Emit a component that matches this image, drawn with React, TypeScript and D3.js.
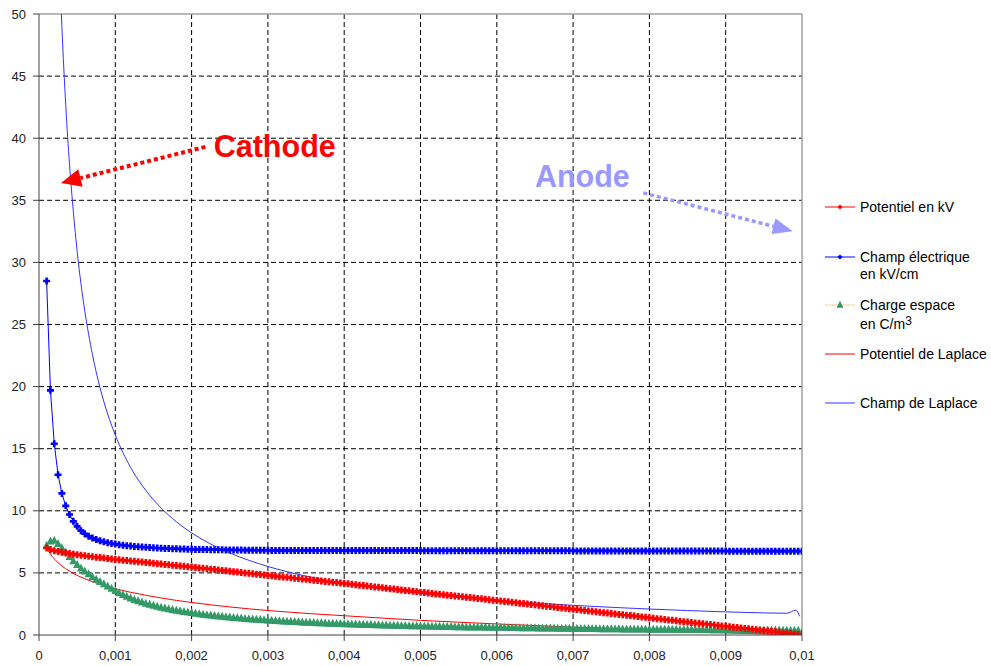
import React from 'react';
import * as d3 from 'd3';

// ---- data (x in metres, step 0.00005 from 0.0001 to 0.01) ----
const rStart = 0.0001;
const rStep = 0.00005;

const potentielKV = [
  7.0, 6.88, 6.79, 6.72, 6.66, 6.61, 6.56, 6.51, 6.47, 6.42, 6.38, 6.34, 6.3, 6.26, 6.23, 6.19, 6.15, 6.11, 6.08,
  6.05, 6.02, 5.99, 5.96, 5.93, 5.9, 5.87, 5.84, 5.81, 5.78, 5.74, 5.71, 5.68, 5.65, 5.62, 5.59, 5.56, 5.53, 5.5, 5.47,
  5.44, 5.4, 5.37, 5.34, 5.3, 5.27, 5.24, 5.2, 5.17, 5.14, 5.1, 5.07, 5.03, 5.0, 4.97, 4.93, 4.9, 4.87, 4.83, 4.8,
  4.77, 4.74, 4.7, 4.67, 4.64, 4.61, 4.57, 4.54, 4.51, 4.48, 4.44, 4.41, 4.38, 4.35, 4.31, 4.28, 4.25, 4.22, 4.18, 4.15,
  4.12, 4.08, 4.05, 4.01, 3.98, 3.94, 3.91, 3.87, 3.84, 3.8, 3.77, 3.73, 3.7, 3.66, 3.63, 3.59, 3.56, 3.52, 3.49, 3.45,
  3.42, 3.38, 3.35, 3.31, 3.28, 3.25, 3.21, 3.18, 3.14, 3.11, 3.08, 3.04, 3.01, 2.97, 2.94, 2.91, 2.87, 2.84, 2.8, 2.77,
  2.74, 2.7, 2.67, 2.63, 2.6, 2.56, 2.53, 2.49, 2.46, 2.43, 2.39, 2.36, 2.32, 2.29, 2.25, 2.22, 2.18, 2.15, 2.11, 2.08,
  2.05, 2.01, 1.98, 1.94, 1.91, 1.87, 1.84, 1.8, 1.77, 1.73, 1.7, 1.66, 1.63, 1.59, 1.56, 1.52, 1.49, 1.45, 1.42, 1.38,
  1.35, 1.31, 1.28, 1.24, 1.21, 1.18, 1.14, 1.11, 1.07, 1.04, 1.01, 0.97, 0.94, 0.9, 0.87, 0.84, 0.8, 0.77, 0.73, 0.7,
  0.67, 0.63, 0.6, 0.56, 0.53, 0.5, 0.46, 0.43, 0.39, 0.36, 0.33, 0.29, 0.26, 0.22, 0.19, 0.16, 0.12, 0.09, 0.05, 0.02,
];

const champKVcm = [
  28.5, 19.7, 15.4, 12.9, 11.4, 10.4, 9.7, 9.15, 8.75, 8.4, 8.15, 7.95, 7.8, 7.68, 7.58, 7.5, 7.43, 7.37, 7.32,
  7.27, 7.23, 7.19, 7.16, 7.13, 7.1, 7.08, 7.06, 7.04, 7.02, 7.0, 6.99, 6.97, 6.96, 6.95, 6.94, 6.93, 6.92, 6.91, 6.9,
  6.89, 6.89, 6.88, 6.88, 6.87, 6.87, 6.86, 6.86, 6.85, 6.85, 6.84, 6.84, 6.84, 6.83, 6.83, 6.83, 6.82, 6.82, 6.82, 6.82,
  6.81, 6.81, 6.81, 6.81, 6.81, 6.81, 6.81, 6.81, 6.81, 6.81, 6.81, 6.81, 6.81, 6.81, 6.81, 6.81, 6.81, 6.81, 6.81, 6.81,
  6.8, 6.8, 6.8, 6.8, 6.8, 6.8, 6.8, 6.8, 6.8, 6.8, 6.8, 6.8, 6.8, 6.8, 6.8, 6.8, 6.8, 6.8, 6.8, 6.8,
  6.79, 6.79, 6.79, 6.79, 6.79, 6.79, 6.79, 6.79, 6.79, 6.79, 6.79, 6.79, 6.79, 6.79, 6.79, 6.79, 6.79, 6.79, 6.79, 6.79,
  6.78, 6.78, 6.78, 6.78, 6.78, 6.78, 6.78, 6.78, 6.78, 6.78, 6.78, 6.78, 6.78, 6.78, 6.78, 6.78, 6.78, 6.78, 6.78, 6.78,
  6.77, 6.77, 6.77, 6.77, 6.77, 6.77, 6.77, 6.77, 6.77, 6.77, 6.77, 6.77, 6.77, 6.77, 6.77, 6.77, 6.77, 6.77, 6.77, 6.77,
  6.76, 6.76, 6.76, 6.76, 6.76, 6.76, 6.76, 6.76, 6.76, 6.76, 6.76, 6.76, 6.76, 6.76, 6.76, 6.76, 6.76, 6.76, 6.76, 6.76,
  6.75, 6.75, 6.75, 6.75, 6.75, 6.75, 6.75, 6.75, 6.75, 6.75, 6.75, 6.75, 6.75, 6.75, 6.75, 6.75, 6.75, 6.75, 6.75, 6.75,
];

const chargeCm3 = [
  7.2, 7.55, 7.6, 7.35, 7.0, 6.65, 6.3, 5.95, 5.65, 5.38, 5.13, 4.9, 4.67, 4.47, 4.28, 4.1, 3.92, 3.73, 3.55,
  3.38, 3.23, 3.09, 2.96, 2.84, 2.73, 2.63, 2.54, 2.45, 2.37, 2.29, 2.22, 2.15, 2.09, 2.03, 1.97, 1.92, 1.87, 1.82, 1.78,
  1.73, 1.69, 1.65, 1.61, 1.58, 1.54, 1.51, 1.48, 1.45, 1.42, 1.39, 1.37, 1.34, 1.31, 1.29, 1.27, 1.25, 1.22, 1.2, 1.18,
  1.16, 1.15, 1.13, 1.11, 1.09, 1.08, 1.06, 1.04, 1.03, 1.01, 1.0, 0.99, 0.97, 0.96, 0.95, 0.93, 0.92, 0.91, 0.9, 0.89,
  0.88, 0.87, 0.86, 0.85, 0.84, 0.83, 0.82, 0.81, 0.8, 0.79, 0.78, 0.77, 0.76, 0.76, 0.75, 0.74, 0.73, 0.72, 0.72, 0.71,
  0.7, 0.7, 0.69, 0.68, 0.68, 0.67, 0.66, 0.66, 0.65, 0.65, 0.64, 0.63, 0.63, 0.62, 0.62, 0.61, 0.61, 0.6, 0.6, 0.59,
  0.59, 0.58, 0.58, 0.57, 0.57, 0.56, 0.56, 0.55, 0.55, 0.55, 0.54, 0.54, 0.53, 0.53, 0.53, 0.52, 0.52, 0.51, 0.51, 0.51,
  0.5, 0.5, 0.5, 0.49, 0.49, 0.49, 0.48, 0.48, 0.48, 0.47, 0.47, 0.47, 0.46, 0.46, 0.46, 0.46, 0.45, 0.45, 0.45, 0.44,
  0.44, 0.44, 0.44, 0.43, 0.43, 0.43, 0.43, 0.42, 0.42, 0.42, 0.42, 0.41, 0.41, 0.41, 0.41, 0.4, 0.4, 0.4, 0.4, 0.39,
  0.39, 0.39, 0.39, 0.39, 0.38, 0.38, 0.38, 0.38, 0.38, 0.37, 0.37, 0.37, 0.37, 0.37, 0.36, 0.36, 0.36, 0.36, 0.36, 0.2,
];

const laplacePotX = [
  0.0001, 0.00015, 0.0002, 0.00025, 0.0003, 0.0004, 0.0005, 0.0006, 0.0007, 0.0008, 0.0009, 0.001,
  0.0012, 0.0014, 0.0016, 0.0018, 0.002, 0.0025, 0.003, 0.0035, 0.004, 0.0045, 0.005, 0.0055, 0.006,
  0.0065, 0.007, 0.0075, 0.008, 0.0085, 0.009, 0.0095, 0.01,
];
const laplacePot = [
  7.0, 6.51, 6.13, 5.82, 5.56, 5.14, 4.8, 4.53, 4.29, 4.08, 3.9, 3.73,
  3.44, 3.2, 2.98, 2.79, 2.62, 2.26, 1.97, 1.74, 1.55, 1.36, 1.18, 1.03, 0.89,
  0.76, 0.63, 0.51, 0.4, 0.29, 0.18, 0.08, 0.0,
];

const laplaceFieldX = [
  0.0001, 0.00015, 0.0002, 0.00025, 0.0003, 0.00035, 0.0004, 0.00045, 0.0005, 0.0006, 0.0007, 0.0008, 0.0009, 0.001,
  0.0012, 0.0014, 0.0016, 0.0018, 0.002, 0.0025, 0.003, 0.0035, 0.004, 0.0045, 0.005, 0.0055, 0.006,
  0.0065, 0.007, 0.0075, 0.008, 0.0085, 0.009, 0.0095, 0.0098, 0.00992, 0.00997,
];
const laplaceField = [
  117.5, 87.0, 69.1, 57.3, 49.0, 42.7, 37.9, 34.1, 30.9, 26.1, 22.6, 19.9, 17.8, 16.1,
  13.5, 11.64, 10.23, 9.12, 8.22, 6.61, 5.52, 4.74, 4.16, 3.7, 3.33, 3.03, 2.78,
  2.57, 2.39, 2.23, 2.09, 1.97, 1.86, 1.78, 1.75, 2.0, 1.5,
];

const xTicks = [0, 0.001, 0.002, 0.003, 0.004, 0.005, 0.006, 0.007, 0.008, 0.009, 0.01];
const xTickLabels = ['0', '0,001', '0,002', '0,003', '0,004', '0,005', '0,006', '0,007', '0,008', '0,009', '0,01'];
const yTicks = [0, 5, 10, 15, 20, 25, 30, 35, 40, 45, 50];

const FONT = '"Liberation Sans", Arial, sans-serif';
const RED = '#ff0000';
const BLUE = '#0000ff';
const THIN_BLUE = '#3333ff';
const GREEN = '#339966';
const PEACH = '#ffcc99';
const ANODE = '#9999ff';

function diamond(cx: number, cy: number, r: number) {
  return `M${cx},${cy - r}L${cx + r},${cy}L${cx},${cy + r}L${cx - r},${cy}Z`;
}
function plus(cx: number, cy: number, r: number, t: number) {
  return `M${cx - t},${cy - r}H${cx + t}V${cy - t}H${cx + r}V${cy + t}H${cx + t}V${cy + r}H${cx - t}V${cy + t}H${cx - r}V${cy - t}H${cx - t}Z`;
}
function triangle(cx: number, cy: number, w: number, h: number) {
  return `M${cx},${cy - h * 0.6}L${cx + w},${cy + h * 0.4}L${cx - w},${cy + h * 0.4}Z`;
}

function Arrow({ x1, y1, x2, y2, color, width, headLen, headHalf }: any) {
  const dx = x2 - x1, dy = y2 - y1;
  const len = Math.hypot(dx, dy);
  const ux = dx / len, uy = dy / len;
  const bx = x2 - ux * headLen, by = y2 - uy * headLen;
  const px = -uy * headHalf, py = ux * headHalf;
  return (
    <g>
      <line x1={x1} y1={y1} x2={bx} y2={by} stroke={color} strokeWidth={width} strokeDasharray="4,3" />
      <polygon points={`${x2},${y2} ${bx + px},${by + py} ${bx - px},${by - py}`} fill={color} />
    </g>
  );
}

export default function App() {
  const W = 991, H = 666;
  const x = d3.scaleLinear().domain([0, 0.01]).range([39, 802]);
  const y = d3.scaleLinear().domain([0, 50]).range([635, 14]);
  const rs = potentielKV.map((_, i) => rStart + i * rStep);

  const line = d3.line<[number, number]>().x(d => x(d[0])).y(d => y(d[1]));
  const smooth = d3.line<[number, number]>().x(d => x(d[0])).y(d => y(d[1])).curve(d3.curveMonotoneX);

  const potPts: [number, number][] = rs.map((r, i) => [r, potentielKV[i]]);
  const champPts: [number, number][] = rs.map((r, i) => [r, champKVcm[i]]);
  const chargePts: [number, number][] = rs.map((r, i) => [r, chargeCm3[i]]);
  const lpPts: [number, number][] = laplacePotX.map((r, i) => [r, laplacePot[i]]);
  const lfPts: [number, number][] = laplaceFieldX.map((r, i) => [r, laplaceField[i]]);

  const x0 = x(0), x1 = x(0.01), yTop = y(50), yBot = y(0);

  const legendItems = [
    { y: 207, lines: ['Potentiel en kV'], stroke: RED, marker: 'diamond', mcolor: RED, gap: 17.5 },
    { y: 257, lines: ['Champ électrique', 'en kV/cm'], stroke: BLUE, marker: 'diamond', mcolor: BLUE, gap: 17.5 },
    { y: 305, lines: ['Charge espace', 'en C/m'], stroke: PEACH, marker: 'triangle', mcolor: GREEN, sup: true, gap: 19 },
    { y: 354, lines: ['Potentiel de Laplace'], stroke: RED, marker: null, mcolor: RED, gap: 17.5 },
    { y: 403, lines: ['Champ de Laplace'], stroke: THIN_BLUE, marker: null, mcolor: BLUE, gap: 17.5 },
  ];

  return (
    <svg width={W} height={H} style={{ position: 'absolute', left: 0, top: 0, background: '#fff' }} fontFamily={FONT}>
      <defs>
        <clipPath id="plot">
          <rect x={x0} y={yTop} width={x1 - x0} height={yBot - yTop} />
        </clipPath>
      </defs>
      <rect x={0} y={0} width={W} height={H} fill="#fff" />

      {/* gridlines */}
      {yTicks.filter(t => t > 0 && t < 50).map(t => (
        <line key={'gy' + t} x1={x0} x2={x1} y1={y(t)} y2={y(t)} stroke="#000" strokeDasharray="5,3" strokeWidth={1} />
      ))}
      {xTicks.filter(t => t > 0 && t < 0.01).map(t => (
        <line key={'gx' + t} x1={x(t)} x2={x(t)} y1={yTop} y2={yBot} stroke="#000" strokeDasharray="5,3" strokeWidth={1} />
      ))}

      {/* plot border top/right */}
      <line x1={x0} x2={x1} y1={yTop} y2={yTop} stroke="#a0a0a0" strokeWidth={1.5} />
      <line x1={x1} x2={x1} y1={yTop} y2={yBot} stroke="#a0a0a0" strokeWidth={1.5} />

      {/* series */}
      <g clipPath="url(#plot)">
        <path d={smooth(lpPts) || ''} fill="none" stroke={RED} strokeWidth={1} />
        <path d={smooth(lfPts) || ''} fill="none" stroke={THIN_BLUE} strokeWidth={1} />

        <path d={line(chargePts) || ''} fill="none" stroke={PEACH} strokeWidth={1} />
        {chargePts.map((p, i) => (
          <path key={'c' + i} d={triangle(x(p[0]), y(p[1]), 4, 8)} fill={GREEN} />
        ))}

        <path d={line(champPts) || ''} fill="none" stroke={BLUE} strokeWidth={1} />
        {champPts.map((p, i) => (
          <path key={'e' + i} d={plus(x(p[0]), y(p[1]), 3.5, 1.3)} fill={BLUE} />
        ))}

        <path d={line(potPts) || ''} fill="none" stroke={RED} strokeWidth={1} />
        {potPts.map((p, i) => (
          <path key={'v' + i} d={plus(x(p[0]), y(p[1]), 3.5, 1.3)} fill={RED} />
        ))}
      </g>

      {/* axes */}
      <line x1={x0} x2={x0} y1={yTop} y2={yBot} stroke="#444" strokeWidth={1} />
      <line x1={x0} x2={x1} y1={yBot} y2={yBot} stroke="#444" strokeWidth={1} />
      {yTicks.map(t => (
        <g key={'yt' + t}>
          <line x1={x0 - 6} x2={x0} y1={y(t)} y2={y(t)} stroke="#444" />
          <text x={x0 - 13} y={y(t)} dy="0.35em" textAnchor="end" fontSize={13} fill="#222">{t}</text>
        </g>
      ))}
      {xTicks.map((t, i) => (
        <g key={'xt' + t}>
          <line x1={x(t)} x2={x(t)} y1={yBot} y2={yBot + 6} stroke="#444" />
          <text x={x(t)} y={yBot + 25} textAnchor="middle" fontSize={13} fill="#222">{xTickLabels[i]}</text>
        </g>
      ))}

      {/* annotations */}
      <Arrow x1={x(0.00218)} y1={y(39.3)} x2={x(0.000289)} y2={y(36.4)} color={RED} width={4} headLen={20} headHalf={9} />
      <text x={x(0.00229)} y={y(38.5)} fontSize={30.5} fontWeight="bold" fill={RED}>Cathode</text>
      <Arrow x1={x(0.00792)} y1={y(35.6)} x2={x(0.00988)} y2={y(32.5)} color={ANODE} width={3.5} headLen={20} headHalf={8} />
      <text x={x(0.0065)} y={y(36.1)} fontSize={30.5} fontWeight="bold" fill={ANODE}>Anode</text>

      {/* legend */}
      {legendItems.map((it, i) => (
        <g key={'lg' + i}>
          <line x1={825} x2={855} y1={it.y} y2={it.y} stroke={it.stroke} strokeWidth={1} />
          {it.marker === 'diamond' && <path d={diamond(840, it.y, 2.5)} fill={it.mcolor} />}
          {it.marker === 'triangle' && <path d={triangle(840, it.y, 3.5, 7)} fill={it.mcolor} />}
          {it.lines.map((ln, j) => (
            <text key={j} x={860} y={it.y + j * it.gap} dy="0.35em" fontSize={14} fill="#000">
              {ln}
              {it.sup && j === it.lines.length - 1 ? <tspan dy={-4} fontSize={12}>3</tspan> : null}
            </text>
          ))}
        </g>
      ))}
    </svg>
  );
}
